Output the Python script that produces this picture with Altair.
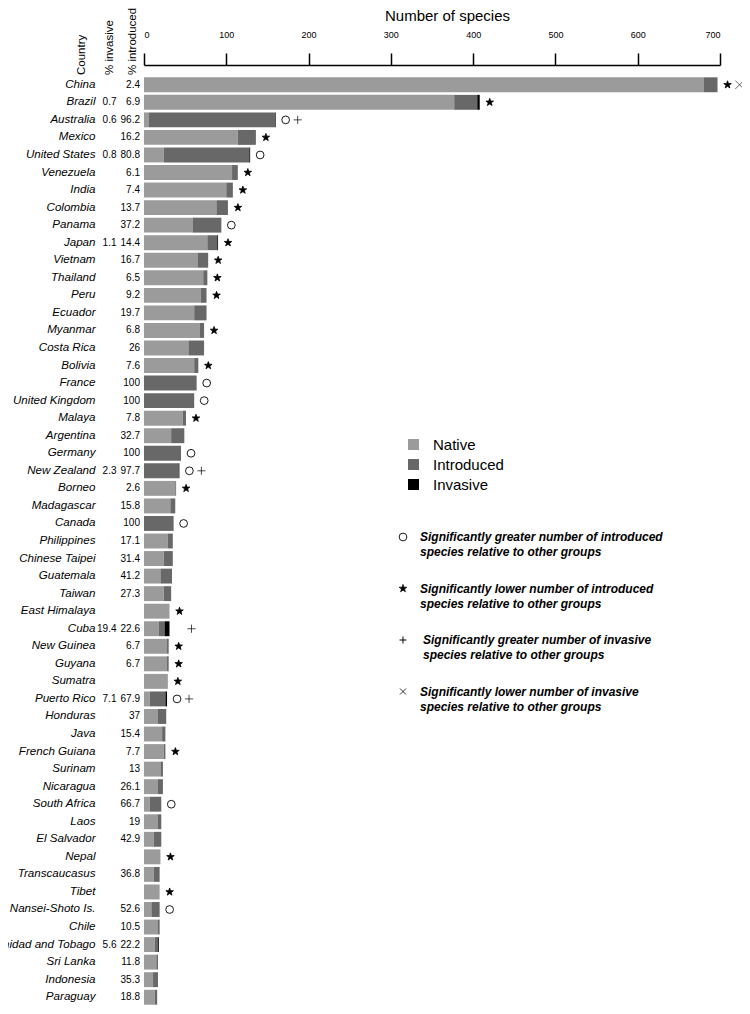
import altair as alt
import pandas as pd

countries = ["China", "Brazil", "Australia", "Mexico", "United States", "Venezuela", "India",
             "Colombia", "Panama", "Japan", "Vietnam", "Thailand", "Peru", "Ecuador", "Myanmar",
             "Costa Rica", "Bolivia", "France", "United Kingdom", "Malaya", "Argentina", "Germany",
             "New Zealand", "Borneo", "Madagascar", "Canada", "Philippines", "Chinese Taipei",
             "Guatemala", "Taiwan", "East Himalaya", "Cuba", "New Guinea", "Guyana", "Sumatra",
             "Puerto Rico", "Honduras", "Java", "French Guiana", "Surinam", "Nicaragua",
             "South Africa", "Laos", "El Salvador", "Nepal", "Transcaucasus", "Tibet",
             "Nansei-Shoto Is.", "Chile", "Trinidad and Tobago", "Sri Lanka", "Indonesia", "Paraguay"]

native = [680, 377, 6, 114, 24, 107, 100, 88, 59, 77, 65, 72, 69, 61, 68, 54, 61, 0, 0, 47, 33, 0,
          0, 38, 32, 0, 29, 24, 20, 24, 31, 18, 28, 28, 29, 7, 17, 22, 24, 20, 17, 7, 17, 12, 20,
          12, 19, 9, 17, 13, 15, 11, 13]
introduced = [17, 28, 153, 22, 104, 7, 8, 14, 35, 12, 13, 5, 7, 15, 5, 19, 5, 64, 61, 4, 16, 45,
              42, 1, 6, 36, 6, 11, 14, 9, 0, 7, 2, 2, 0, 19, 10, 4, 2, 3, 6, 14, 4, 9, 0, 7, 0,
              10, 2, 4, 2, 6, 3]
invasive = [0, 3, 1, 0, 1, 0, 0, 0, 0, 1, 0, 0, 0, 0, 0, 0, 0, 0, 0, 0, 0, 0,
            1, 0, 0, 0, 0, 0, 0, 0, 0, 6, 0, 0, 0, 2, 0, 0, 0, 0, 0, 0, 0, 0, 0, 0, 0,
            0, 0, 1, 0, 0, 0]

pct_invasive = ["", "0.7", "0.6", "", "0.8", "", "", "", "", "1.1", "", "", "", "", "", "", "",
                "", "", "", "", "", "2.3", "", "", "", "", "", "", "", "", "19.4", "", "", "",
                "7.1", "", "", "", "", "", "", "", "", "", "", "", "", "", "5.6", "", "", ""]
pct_introduced = ["2.4", "6.9", "96.2", "16.2", "80.8", "6.1", "7.4", "13.7", "37.2", "14.4",
                  "16.7", "6.5", "9.2", "19.7", "6.8", "26", "7.6", "100", "100", "7.8", "32.7",
                  "100", "97.7", "2.6", "15.8", "100", "17.1", "31.4", "41.2", "27.3", "", "22.6",
                  "6.7", "6.7", "", "67.9", "37", "15.4", "7.7", "13", "26.1", "66.7", "19",
                  "42.9", "", "36.8", "", "52.6", "10.5", "22.2", "11.8", "35.3", "18.8"]

# o = greater introduced, * = lower introduced, + = greater invasive, x = lower invasive
sym_first = ["*", "*", "o", "*", "o", "*", "*", "*", "o", "*", "*", "*", "*", "", "*", "", "*",
             "o", "o", "*", "", "o", "o", "*", "", "o", "", "", "", "", "*", "", "*", "*", "*",
             "o", "", "", "*", "", "", "o", "", "", "*", "", "*", "o", "", "", "", "", ""]
sym_second = ["x", "", "+", "", "", "", "", "", "", "", "", "", "", "", "", "", "",
              "", "", "", "", "", "+", "", "", "", "", "", "", "", "", "+", "", "", "",
              "+", "", "", "", "", "", "", "", "", "", "", "", "", "", "", "", "", ""]

segments = ["Native", "Introduced", "Invasive"]
segment_colors = ["#9b9b9b", "#686868", "#000000"]

sig_symbols = ["o", "*", "+", "x"]
sig_texts = ["Significantly greater number of introduced\nspecies relative to other groups",
             "Significantly lower number of introduced\nspecies relative to other groups",
             "Significantly greater number of invasive\nspecies relative to other groups",
             "Significantly lower number of invasive\nspecies relative to other groups"]

headers = ["Country", "% invasive", "% introduced"]

# ---------------------------------------------------------------- tables
df = pd.DataFrame({
    "country": countries, "Native": native, "Introduced": introduced, "Invasive": invasive,
    "pct_inv": pct_invasive, "pct_intro": pct_introduced,
    "sym1": sym_first, "sym2": sym_second,
})
df["total"] = df["Native"] + df["Introduced"] + df["Invasive"]

bars_long = df.melt(id_vars=["country"], value_vars=segments, var_name="segment", value_name="value")
bars_long["seg_order"] = bars_long["segment"].map({s: i for i, s in enumerate(segments)})

sym1_df = df[df["sym1"] != ""][["country", "total", "sym1"]].rename(columns={"sym1": "sym"})
sym2_df = df[df["sym2"] != ""][["country", "total", "sym2"]].rename(columns={"sym2": "sym"})

STAR = ("M0,-1L0.235,-0.324L0.951,-0.309L0.38,0.124L0.588,0.809L0,0.4L-0.588,0.809"
        "L-0.38,0.124L-0.951,-0.309L-0.235,-0.324Z")
PLUS = "M-1,0L1,0M0,-1L0,1"
CROSS = "M-1,-1L1,1M-1,1L1,-1"
shape_of = {"o": "circle", "*": STAR, "+": PLUS, "x": CROSS}
fill_of = {"o": "white", "*": "black", "+": "transparent", "x": "transparent"}
size_of = {"o": 60, "*": 70, "+": 49, "x": 36}
sw_of = {"o": 0.9, "*": 0.6, "+": 1.0, "x": 0.8}

# ---------------------------------------------------------------- encodings
x_axis = alt.Axis(orient="top", values=[0, 100, 200, 300, 400, 500, 600, 700], offset=11,
                  tickSize=12, tickWidth=1.5, domainWidth=1.5, grid=False, labelFontSize=9,
                  labelPadding=14, title="Number of species", titleFontSize=15,
                  titleFontWeight="normal", titlePadding=7, titleX=303, titleAlign="center",
                  domainColor="black", tickColor="black", labelColor="black", titleColor="black")
x_scale = alt.Scale(domain=[0, 700], nice=False, padding=0)
y_enc = alt.Y("country:N", sort=countries, axis=None,
              scale=alt.Scale(paddingInner=0.15, paddingOuter=0.075))

bars = alt.Chart(bars_long).mark_bar().encode(
    x=alt.X("value:Q", scale=x_scale, axis=x_axis, stack="zero"),
    y=y_enc,
    color=alt.Color("segment:N", scale=alt.Scale(domain=segments, range=segment_colors),
                    legend=alt.Legend(title=None, orient="none", legendX=262, legendY=361,
                                      symbolType="square", symbolSize=121, symbolStrokeWidth=0,
                                      labelFontSize=15, labelOffset=12, rowPadding=4,
                                      padding=0, labelColor="black")),
    order=alt.Order("seg_order:Q"),
)

country_text = alt.Chart(df).mark_text(align="right", baseline="middle", fontSize=11.6,
                                       fontStyle="italic", color="black").encode(
    x=alt.value(-48.5), y=y_enc, text="country:N")
inv_text = alt.Chart(df).mark_text(align="right", baseline="middle", fontSize=10,
                                   color="black").encode(
    x=alt.value(-27.5), y=y_enc, text="pct_inv:N")
intro_text = alt.Chart(df).mark_text(align="right", baseline="middle", fontSize=10,
                                     color="black").encode(
    x=alt.value(-4), y=y_enc, text="pct_intro:N")


def sym_layer(data, dx):
    return alt.Chart(data).mark_point(opacity=1, xOffset=dx).encode(
        x=alt.X("total:Q", scale=x_scale, axis=x_axis),
        y=y_enc,
        shape=alt.Shape("sym:N", scale=alt.Scale(domain=sig_symbols,
                                                 range=[shape_of[s] for s in sig_symbols]),
                        legend=None),
        fill=alt.Fill("sym:N", scale=alt.Scale(domain=sig_symbols,
                                               range=[fill_of[s] for s in sig_symbols]),
                      legend=None),
        size=alt.Size("sym:N", scale=alt.Scale(domain=sig_symbols,
                                               range=[size_of[s] for s in sig_symbols]),
                      legend=None),
        strokeWidth=alt.StrokeWidth("sym:N", scale=alt.Scale(domain=sig_symbols,
                                                             range=[sw_of[s] for s in sig_symbols]),
                                    legend=None),
        stroke=alt.value("black"),
    )


sym1_layer = sym_layer(sym1_df, 10)
sym2_layer = sym_layer(sym2_df, 22)

one = alt.Data(values=[{"a": 1}])
header_x = [-62, -34.5, -11.5]
header_layers = [
    alt.Chart(one).mark_text(angle=270, align="left", baseline="middle", fontSize=11.5,
                             color="black", text=h).encode(x=alt.value(hx), y=alt.value(-1))
    for h, hx in zip(headers, header_x)
]

sig_layers = []
for i, (s, t) in enumerate(zip(sig_symbols, sig_texts)):
    yy = 461 + i * 51.5
    sig_layers.append(
        alt.Chart(one).mark_point(opacity=1, shape=shape_of[s], fill=fill_of[s],
                                  size=size_of[s], strokeWidth=sw_of[s], stroke="black")
        .encode(x=alt.value(259), y=alt.value(yy)))
    sig_layers.append(
        alt.Chart(one).mark_text(align="left", baseline="middle", fontSize=12,
                                 fontStyle="italic", fontWeight="bold", lineBreak="\n",
                                 lineHeight=15, color="black", text=t)
        .encode(x=alt.value(276 if s != "+" else 279), y=alt.value(yy)))

chart = alt.layer(
    bars, country_text, inv_text, intro_text, sym1_layer, sym2_layer,
    *header_layers, *sig_layers
).properties(
    width=576, height=930,
    autosize=alt.AutoSizeParams(type="none"),
    padding={"left": 136, "top": 68, "right": 22, "bottom": 0},
).configure(font="Liberation Sans").configure_view(stroke=None)

chart.save("out.html", embed_options={"renderer": "svg", "actions": False})
